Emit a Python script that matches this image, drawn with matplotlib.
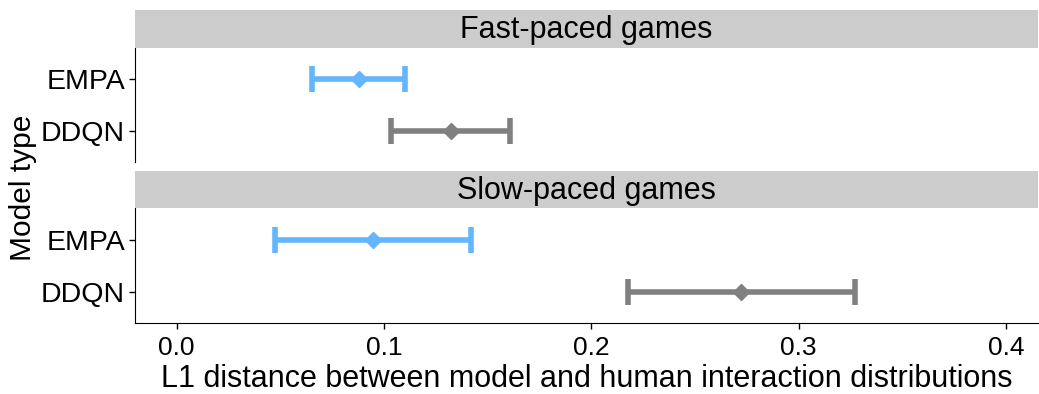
import matplotlib
matplotlib.use("Agg")
import matplotlib.pyplot as plt
import numpy as np

plt.rcParams['font.family'] = ['Liberation Sans', 'DejaVu Sans']

# L1 distance per model, with lower / upper interval bounds
models = ['EMPA', 'DDQN']
facets = ['Fast-paced games', 'Slow-paced games']
fast_mean = [0.0878, 0.1322]
fast_low = [0.0654, 0.1035]
fast_high = [0.1102, 0.1608]
slow_mean = [0.0949, 0.2722]
slow_low = [0.0473, 0.2176]
slow_high = [0.1418, 0.3271]
colors = ['#63b5fc', '#808080']
xticks = [0.0, 0.1, 0.2, 0.3, 0.4]

fig = plt.figure(figsize=(10.39, 3.94), dpi=100)

left, width = 0.1299, 0.8691
panels = [
    (0.5896, 0.2893, 0.8789, 0.0957, fast_mean, fast_low, fast_high),
    (0.1794, 0.2919, 0.4713, 0.0947, slow_mean, slow_low, slow_high),
]

for i, (pb, ph, sb, sh, mean, low, high) in enumerate(panels):
    ax = fig.add_axes([left, pb, width, ph])
    strip = fig.add_axes([left, sb, width, sh])
    strip.set_facecolor('#cccccc')
    strip.set_xticks([])
    strip.set_yticks([])
    for s in strip.spines.values():
        s.set_visible(False)
    strip.text(0.5, 0.47, facets[i], ha='center', va='center', fontsize=22,
               transform=strip.transAxes)

    ypos = np.arange(len(models))
    for j in range(len(models)):
        m = mean[j]
        ax.errorbar(m, ypos[j], xerr=[[m - low[j]], [high[j] - m]], fmt='D',
                    color=colors[j], ms=8, elinewidth=4, capsize=9.5,
                    capthick=4)
    ax.set_ylim(len(models) - 1 + 0.6, -0.6)
    ax.set_yticks(ypos)
    ax.set_yticklabels(models, fontsize=20.5)
    ax.set_xlim(-0.0201, 0.4155)
    ax.spines['top'].set_visible(False)
    ax.spines['right'].set_visible(False)
    ax.tick_params(axis='y', length=4, width=1, pad=3)
    if i == 0:
        ax.spines['bottom'].set_visible(False)
        ax.set_xticks([])
    else:
        ax.set_xticks(xticks)
        ax.set_xticklabels(['0.0', '0.1', '0.2', '0.3', '0.4'], fontsize=19)
        ax.tick_params(axis='x', length=4, width=1, pad=5)
        ax.set_xlabel('L1 distance between model and human interaction distributions',
                      fontsize=22, labelpad=3)

fig.text(0.022, 0.523, 'Model type', rotation=90, ha='center', va='center',
         fontsize=21.5)

fig.savefig('out.png', dpi=100)
